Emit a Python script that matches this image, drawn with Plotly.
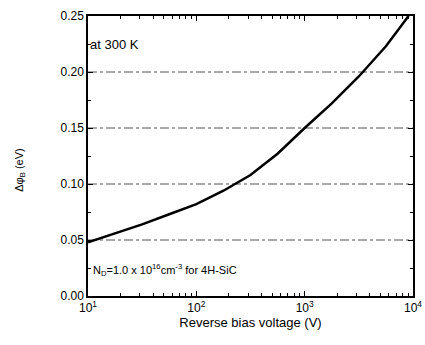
import plotly.graph_objects as go

# data
voltage = [10, 17.8, 31.6, 56.2, 100, 178, 316, 562, 1000, 1780, 3160, 5620, 9100]
dphi = [0.048, 0.056, 0.064, 0.073, 0.082, 0.094, 0.108, 0.127, 0.150, 0.172, 0.196, 0.223, 0.250]
xtick_vals = [10, 100, 1000, 10000]
xtick_text = ["10<sup>1</sup>", "10<sup>2</sup>", "10<sup>3</sup>", "10<sup>4</sup>"]
xminor_vals = [m * d for d in (10, 100, 1000) for m in range(2, 10)]
ytick_vals = [0.0, 0.05, 0.10, 0.15, 0.20, 0.25]
ytick_text = ["0.00", "0.05", "0.10", "0.15", "0.20", "0.25"]

font = "Liberation Sans, Arial, sans-serif"
fig = go.Figure()
fig.add_trace(go.Scatter(x=voltage, y=dphi, mode="lines",
                         line=dict(color="black", width=2.5),
                         showlegend=False))

# dash-dot horizontal grid lines
for yv in ytick_vals[1:-1]:
    fig.add_shape(type="line", xref="paper", yref="y", x0=0, x1=1, y0=yv, y1=yv,
                  line=dict(color="#555555", width=1, dash="dashdot"), layer="below")
# partial vertical dotted grid lines
fig.add_shape(type="line", xref="x", yref="y", x0=2, x1=2, y0=0.102, y1=0.18,
              line=dict(color="#555555", width=1, dash="dot"), layer="below")
fig.add_shape(type="line", xref="x", yref="y", x0=3, x1=3, y0=0.22, y1=0.25,
              line=dict(color="#555555", width=1, dash="dot"), layer="below")

fig.add_annotation(x=0, y=0.225, xref="paper", yref="y", text="at 300 K",
                   showarrow=False, xanchor="left", font=dict(size=13, family=font, color="black"))
fig.add_annotation(x=0.01, y=0.023, xref="paper", yref="y",
                   text="N<sub>D</sub>=1.0 x 10<sup>16</sup>cm<sup>-3</sup> for 4H-SiC",
                   showarrow=False, xanchor="left", font=dict(size=11, family=font, color="black"))
fig.add_annotation(x=-0.21, y=0.45, xref="paper", yref="paper", text="Δφ<sub>B</sub> (eV)",
                   textangle=-90, showarrow=False, xanchor="center", yanchor="middle",
                   font=dict(size=11, family=font, color="black"))

fig.update_xaxes(type="log", range=[1, 4], tickvals=xtick_vals, ticktext=xtick_text,
                 ticks="inside", ticklen=5, tickcolor="black", linecolor="black", linewidth=1.5,
                 mirror="ticks", showgrid=False, zeroline=False, automargin=False,
                 minor=dict(ticks="inside", ticklen=3, tickcolor="black", tickvals=xminor_vals, showgrid=False),
                 tickfont=dict(size=12, family=font, color="black"),
                 title=dict(text="Reverse bias voltage (V)", font=dict(size=13, family=font, color="black"), standoff=4))
fig.update_yaxes(range=[0, 0.25], tickvals=ytick_vals, ticktext=ytick_text,
                 ticks="inside", ticklen=5, tickcolor="black", linecolor="black", linewidth=1.5,
                 mirror="ticks", showgrid=False, zeroline=False, automargin=False,
                 minor=dict(ticks="inside", ticklen=3, tickcolor="black", dtick=0.025, showgrid=False),
                 tickfont=dict(size=12, family=font, color="black"))

fig.update_layout(width=425, height=345, margin=dict(l=88, r=12, t=16, b=49),
                  plot_bgcolor="white", paper_bgcolor="white")
fig.write_html("out.html")
